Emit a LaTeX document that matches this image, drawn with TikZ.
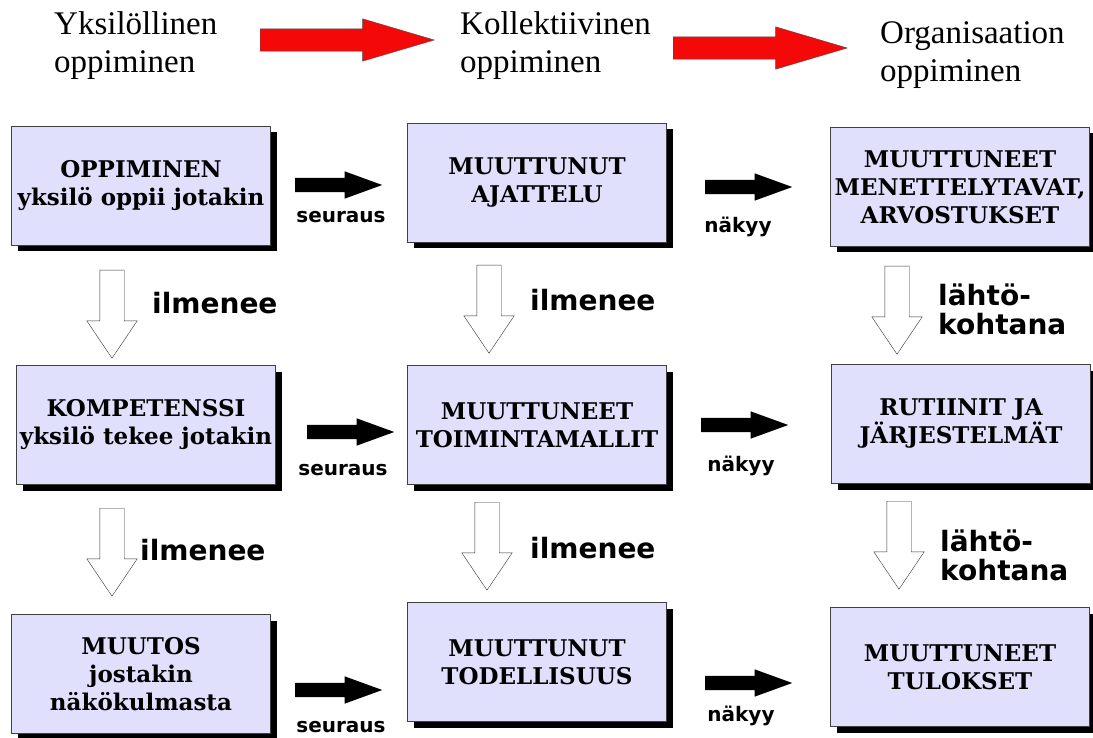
\documentclass[tikz,border=0pt]{standalone}
\usepackage{fontspec}
\setmainfont{Liberation Serif}
\newfontfamily\laatikkofont{DejaVu Serif}
\newfontfamily\selitefont{DejaVu Sans}
\usepackage{tikz}
\usetikzlibrary{positioning,shapes.arrows,shadows}
\definecolor{laventeli}{RGB}{224,224,253}
\definecolor{punainen}{RGB}{245,8,8}
\newcommand{\alarivi}{\fontsize{23}{27}\selectfont}

\tikzset{
  laatikko/.style={draw=black!75, fill=laventeli, minimum width=259pt, minimum height=119pt,
    inner sep=0pt, align=center, font=\laatikkofont\bfseries\fontsize{23}{28}\selectfont,
    drop shadow={shadow xshift=6pt, shadow yshift=-6pt, fill=black, opacity=1}},
  otsikko/.style={anchor=north west, inner sep=0pt, align=left, font=\fontsize{33}{38}\selectfont},
  selite/.style={inner sep=0pt, font=\selitefont\bfseries\fontsize{20}{24}\selectfont},
  isoselite/.style={inner sep=0pt, align=left, font=\selitefont\bfseries\fontsize{28}{29}\selectfont},
  musta/.style={single arrow, anchor=tail, fill=black, inner xsep=0pt, inner ysep=7pt, minimum height=87pt,
    single arrow head extend=6.5pt, single arrow tip angle=40},
  ontto/.style={single arrow, anchor=tail, rotate=-90, draw=black!80, fill=white, inner xsep=0pt,
    inner ysep=12pt, minimum height=88pt, single arrow head extend=13pt, single arrow tip angle=68},
  punanuoli/.style={single arrow, anchor=tail, fill=punainen, draw=black!70, inner xsep=0pt, inner ysep=11pt,
    minimum height=174pt, single arrow head extend=10pt, single arrow tip angle=33}
}

\begin{document}
\begin{tikzpicture}[x=1pt, y=-1pt]
  \useasboundingbox (0,0) rectangle (1093,738);

  % otsikot
  \node[otsikko] (yks) at (54,11) {Yksilöllinen\\oppiminen};
  \node[otsikko] (kol) at (460,11) {Kollektiivinen\\oppiminen};
  \node[otsikko] (org) at (880,21) {Organisaation\\oppiminen};
  \node[punanuoli] (p1) at (260,40) {};
  \node[punanuoli] (p2) at (673,48) {};

  % laatikot
  \node[laatikko] (a1) at (141,186) {OPPIMINEN\\{\alarivi yksilö oppii jotakin}};
  \node[laatikko] (b1) at (537,183) {MUUTTUNUT\\AJATTELU};
  \node[laatikko] (c1) at (960,187) {MUUTTUNEET\\MENETTELYTAVAT,\\ARVOSTUKSET};
  \node[laatikko] (a2) at (146,425) {KOMPETENSSI\\{\alarivi yksilö tekee jotakin}};
  \node[laatikko] (b2) at (537,425) {MUUTTUNEET\\TOIMINTAMALLIT};
  \node[laatikko] (c2) at (961,424) {RUTIINIT JA\\JÄRJESTELMÄT};
  \node[laatikko] (a3) at (141,674) {MUUTOS\\{\alarivi jostakin}\\{\alarivi näkökulmasta}};
  \node[laatikko] (b3) at (537,662) {MUUTTUNUT\\TODELLISUUS};
  \node[laatikko] (c3) at (960,667) {MUUTTUNEET\\TULOKSET};

  % vaakanuolet
  \node[musta] (s1) at (295,185) {};
  \node[musta] (n1) at (705,187) {};
  \node[musta] (s2) at (307,432) {};
  \node[musta] (n2) at (701,425) {};
  \node[musta] (s3) at (295,690) {};
  \node[musta] (n3) at (705,683) {};
  \node[selite, anchor=base] (ls1) at (341,223) {seuraus};
  \node[selite, anchor=base] (ln1) at (738,233) {näkyy};
  \node[selite, anchor=base] (ls2) at (343,475) {seuraus};
  \node[selite, anchor=base] (ln2) at (741,471) {näkyy};
  \node[selite, anchor=base] (ls3) at (341,732) {seuraus};
  \node[selite, anchor=base] (ln3) at (741,721) {näkyy};

  % pystynuolet
  \node[ontto] (h1) at (112,270) {};
  \node[ontto] (h2) at (489,265) {};
  \node[ontto] (h3) at (897,266) {};
  \node[ontto] (h4) at (112,508) {};
  \node[ontto] (h5) at (487,502) {};
  \node[ontto] (h6) at (899,501) {};
  \node[isoselite, anchor=base west] (l1) at (152,313) {ilmenee};
  \node[isoselite, anchor=base west] (l2) at (530,310) {ilmenee};
  \node[isoselite, anchor=north west] (l3) at (938,284) {lähtö-\\kohtana};
  \node[isoselite, anchor=base west] (l4) at (140,560) {ilmenee};
  \node[isoselite, anchor=base west] (l5) at (530,558) {ilmenee};
  \node[isoselite, anchor=north west] (l6) at (940,530) {lähtö-\\kohtana};
\end{tikzpicture}
\end{document}
